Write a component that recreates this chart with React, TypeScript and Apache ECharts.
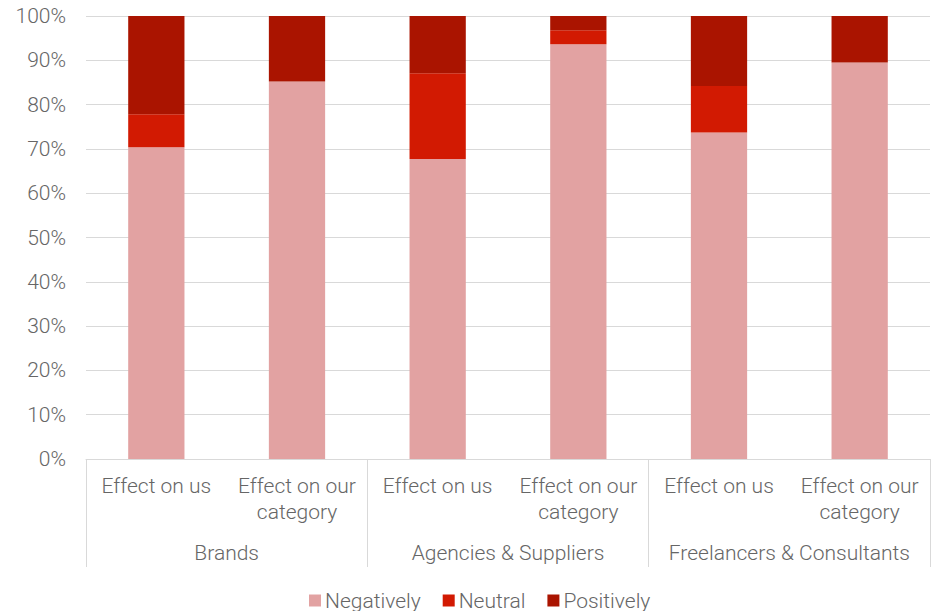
import React, { useEffect, useRef } from "react";
import * as echarts from "echarts";

// Share of respondents (%) per question and respondent group
const subCategories = [
  "Effect on us",
  "Effect on our category",
  "Effect on us",
  "Effect on our category",
  "Effect on us",
  "Effect on our category",
];
const groups = ["Brands", "Agencies & Suppliers", "Freelancers & Consultants"];
const negatively = [70.4, 85.2, 67.7, 93.6, 73.7, 89.5];
const neutral = [7.4, 0, 19.4, 3.2, 10.5, 0];
const positively = [22.2, 14.8, 12.9, 3.2, 15.8, 10.5];

const FONT = "Roboto";
const TEXT = "#666666";
const GRID = "#d9d9d9";

export default function App() {
  const ref = useRef<HTMLDivElement>(null);

  useEffect(() => {
    if (!ref.current) return;
    const chart = echarts.init(ref.current, null, { renderer: "svg" });
    const textStyle = { fontFamily: FONT, fontWeight: 300 as const, fontSize: 21, color: TEXT };
    chart.setOption({
      animation: false,
      textStyle: { fontFamily: FONT },
      grid: { left: 86, right: 4, top: 16, bottom: 152, containLabel: false },
      legend: {
        left: 309,
        top: 590,
        padding: 0,
        icon: "rect",
        itemWidth: 12,
        itemHeight: 12,
        itemGap: 22,
        textStyle: { ...textStyle, padding: [0, 0, 0, -1] },
        data: ["Negatively", "Neutral", "Positively"],
      },
      xAxis: [
        {
          type: "category",
          data: subCategories,
          position: "bottom",
          axisLine: { show: true, lineStyle: { color: GRID, width: 1 } },
          axisTick: { show: false },
          axisLabel: {
            ...textStyle,
            interval: 0,
            margin: 14,
            lineHeight: 26,
            formatter: (v: string) => v.replace(" our ", " our\n"),
          },
        },
        {
          type: "category",
          data: groups,
          position: "bottom",
          axisLine: { show: false },
          axisTick: {
            show: true,
            interval: 0,
            length: 108,
            lineStyle: { color: GRID, width: 1 },
          },
          axisLabel: { ...textStyle, interval: 0, margin: 83 },
        },
      ],
      yAxis: {
        type: "value",
        min: 0,
        max: 100,
        interval: 10,
        axisLine: { show: false },
        axisTick: { show: false },
        splitLine: { lineStyle: { color: GRID, width: 1 } },
        axisLabel: { ...textStyle, margin: 20, formatter: "{value}%" },
      },
      series: [
        {
          name: "Negatively",
          type: "bar",
          stack: "total",
          barWidth: "40%",
          data: negatively,
          itemStyle: { color: "#e2a2a2" },
        },
        {
          name: "Neutral",
          type: "bar",
          stack: "total",
          barWidth: "40%",
          data: neutral,
          itemStyle: { color: "#d21a02" },
        },
        {
          name: "Positively",
          type: "bar",
          stack: "total",
          barWidth: "40%",
          data: positively,
          itemStyle: { color: "#aa1400" },
        },
      ],
    });
    return () => chart.dispose();
  }, []);

  return <div ref={ref} style={{ width: 934, height: 611, position: "absolute", left: 0, top: 0 }} />;
}
